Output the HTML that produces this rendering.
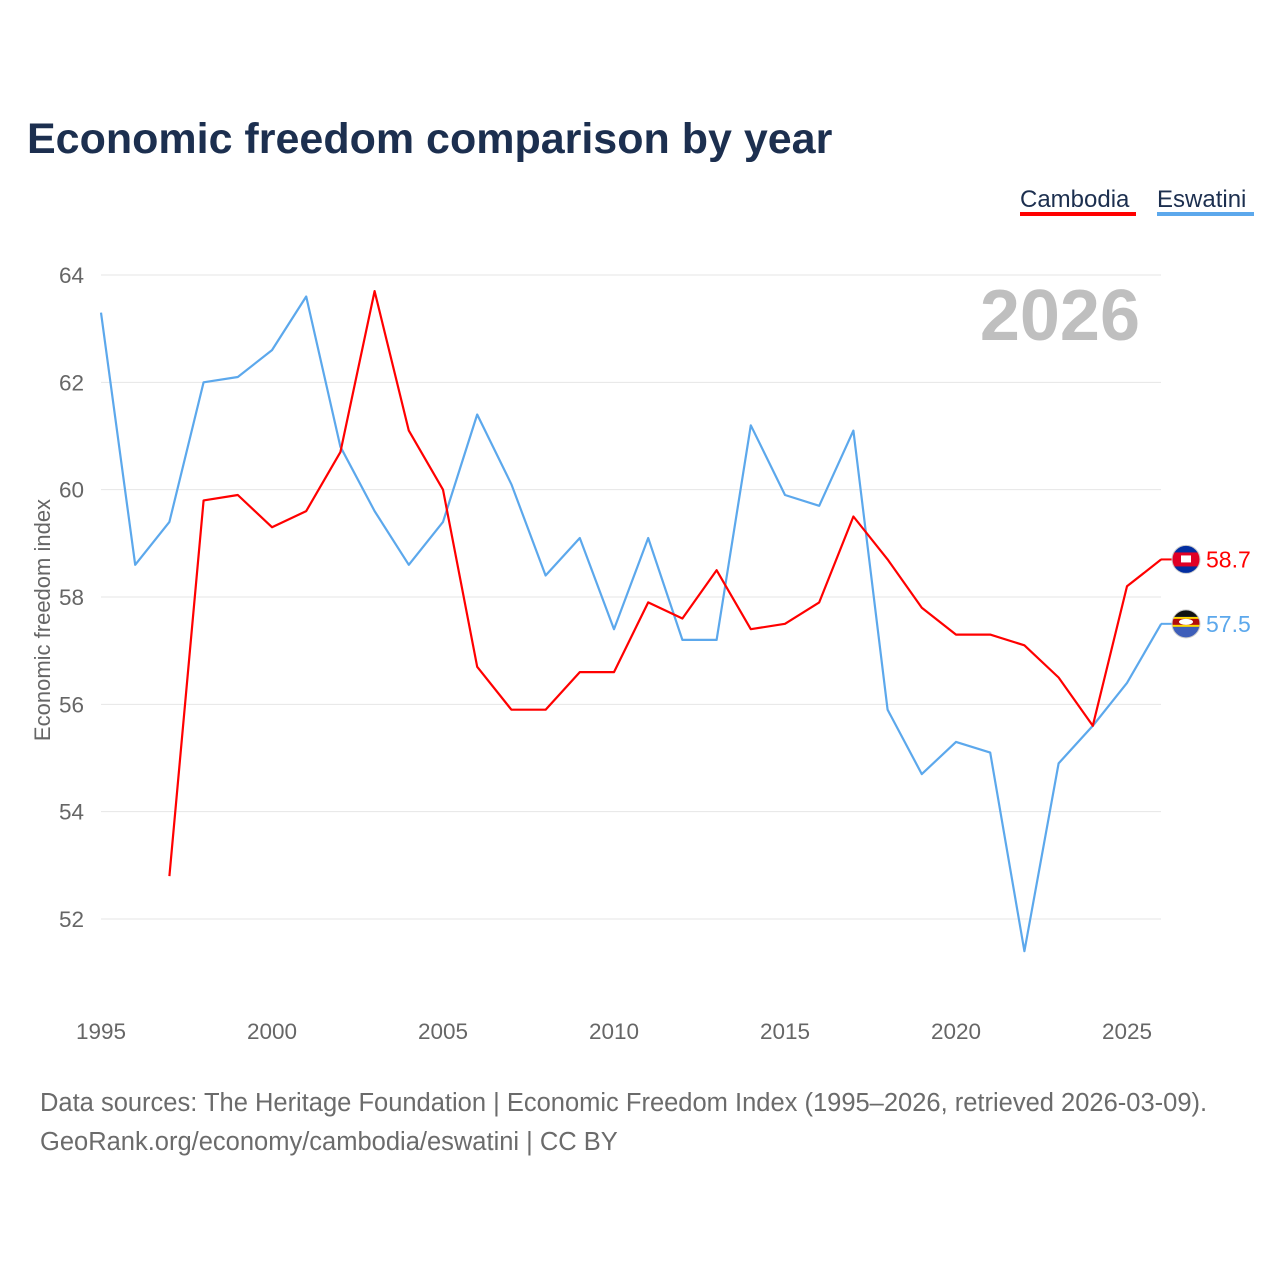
<!DOCTYPE html>
<html><head><meta charset="utf-8"><style>
body{margin:0;background:#fff;font-family:"Liberation Sans",sans-serif}
#wrap{position:relative;width:1280px;height:1280px}
</style></head><body><div id="wrap">
<svg id="chart" width="1280" height="1280" font-family="Liberation Sans, sans-serif">
<defs><clipPath id="cc"><circle cx="1186" cy="0" r="14"/></clipPath></defs>
<text x="27" y="153" font-size="43" font-weight="bold" fill="#1c2f4f">Economic freedom comparison by year</text>
<g><text x="1020" y="207" font-size="24" fill="#1c2f4f">Cambodia</text><rect x="1020" y="212" width="116" height="4" fill="#ff0000"/></g>
<g><text x="1157" y="207" font-size="24" fill="#1c2f4f">Eswatini</text><rect x="1157" y="212" width="97" height="4" fill="#5ca8ec"/></g>
<text x="1140" y="340" font-size="72" font-weight="bold" fill="#bfbfbf" text-anchor="end">2026</text>
<text transform="translate(50,620) rotate(-90)" font-size="22" fill="#666" text-anchor="middle">Economic freedom index</text>
<g id="grid"></g><g id="series"></g>
<text x="40" y="1111" font-size="25.5" fill="#6b6b6b">Data sources: The Heritage Foundation | Economic Freedom Index (1995–2026, retrieved 2026-03-09).</text>
<text x="40" y="1150" font-size="25.5" fill="#6b6b6b">GeoRank.org/economy/cambodia/eswatini | CC BY</text>
</svg></div>
<script>
const years=[];for(let y=1995;y<=2026;y++)years.push(y);
const cambodia=[null,null,52.8,59.8,59.9,59.3,59.6,60.7,63.7,61.1,60.0,56.7,55.9,55.9,56.6,56.6,57.9,57.6,58.5,57.4,57.5,57.9,59.5,58.7,57.8,57.3,57.3,57.1,56.5,55.6,58.2,58.7];
const eswatini=[63.3,58.6,59.4,62.0,62.1,62.6,63.6,60.8,59.6,58.6,59.4,61.4,60.1,58.4,59.1,57.4,59.1,57.2,57.2,61.2,59.9,59.7,61.1,55.9,54.7,55.3,55.1,51.4,54.9,55.6,56.4,57.5];
const yTicks=[52,54,56,58,60,62,64];
const xTicks=[1995,2000,2005,2010,2015,2020,2025];
const NS='http://www.w3.org/2000/svg';
const xS=y=>101+(y-1995)*(1127-101)/30;
const yS=v=>919-(v-52)*(919-275)/12;
function el(t,a,p){const e=document.createElementNS(NS,t);for(const k in a)e.setAttribute(k,a[k]);p.appendChild(e);return e;}
const g=document.getElementById('grid'),s=document.getElementById('series');
yTicks.forEach(v=>{
 const l=el('line',{x1:101,x2:1161,y1:yS(v),y2:yS(v),stroke:'#e6e6e6','stroke-width':1},g);
 
 
 const t=el('text',{x:84,y:yS(v)+8,'font-size':22.5,fill:'#666','text-anchor':'end'},g);t.textContent=v;
 
 
});
xTicks.forEach(v=>{
 const t=el('text',{x:xS(v),y:1039,'font-size':22.5,fill:'#666','text-anchor':'middle'},g);t.textContent=v;
 
 
});
function line(data,color,name){
 let d='';let pen=false;
 data.forEach((v,i)=>{if(v==null){pen=false;return;}d+=(pen?'L':'M')+xS(years[i]).toFixed(1)+','+yS(v).toFixed(1);pen=true;});
 const p=el('path',{d:d,fill:'none',stroke:color,'stroke-width':2.2,'stroke-linejoin':'round'},s);
 
 
 const last=data[data.length-1];const ly=yS(last);
 el('line',{x1:1161,x2:1176,y1:ly,y2:ly,stroke:color,'stroke-width':2},s);
 const f=el('g',{transform:'translate(0,'+ly+')','clip-path':'url(#cc)'},s);
 
 
 if(name==='cambodia'){
  el('rect',{x:1170,y:-16,width:32,height:32,fill:'#032ea1'},f);
  el('rect',{x:1170,y:-7,width:32,height:14,fill:'#e00025'},f);
  el('rect',{x:1181,y:-4,width:10,height:7,fill:'#fff'},f);
 }else{
  el('rect',{x:1170,y:-16,width:32,height:32,fill:'#3e5eb9'},f);
  el('rect',{x:1170,y:-7,width:32,height:10,fill:'#ffd900'},f);
  el('rect',{x:1170,y:-5,width:32,height:6,fill:'#b10c0c'},f);
  el('ellipse',{cx:1186,cy:-2,rx:7,ry:3,fill:'#fff'},f);
  el('rect',{x:1170,y:-16,width:32,height:9,fill:'#111'},f);
 }
 el('circle',{cx:1186,cy:ly,r:14,fill:'none',stroke:'#ccc','stroke-width':1},s);
 const t=el('text',{x:1206,y:ly+8,'font-size':23,fill:color},s);t.textContent=last.toFixed(1);
 
 
}
line(eswatini,'#5ca8ec','eswatini');
line(cambodia,'#ff0000','cambodia');
</script></body></html>
